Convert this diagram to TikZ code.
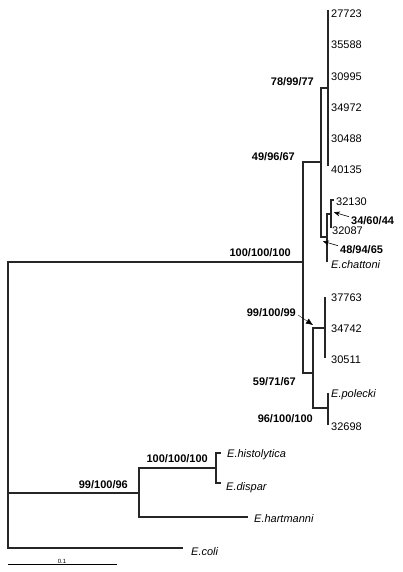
\documentclass[tikz,border=0pt]{standalone}
\usepackage{fontspec}
\setmainfont{Liberation Sans}
\usetikzlibrary{arrows.meta, positioning}

\begin{document}
\begin{tikzpicture}[
    x=1pt, y=-1pt,
    branch/.style={line width=1.1pt, draw=black!85},
    leaf/.style={anchor=west, inner sep=0pt, font=\fontsize{11}{13}\selectfont},
    taxon/.style={leaf, font=\fontsize{11}{13}\selectfont\itshape},
    support/.style={inner sep=0pt, font=\fontsize{11}{13}\selectfont\bfseries},
    pointer/.style={-{Stealth[length=6pt, width=5pt]}, line width=0.6pt, shorten >=1pt}
]
\useasboundingbox (0,0) rectangle (403,572);

   % Internal nodes
   \coordinate (root) at (8,493);
   \coordinate (nA) at (303,262);
   \coordinate (nB) at (321,162);
   \coordinate (nP) at (328,88);
   \coordinate (nC) at (327,237);
   \coordinate (nD) at (331,214);
   \coordinate (nF) at (313,373);
   \coordinate (nG) at (325,328);
   \coordinate (nH) at (328,408);
   \coordinate (nI) at (139,493);
   \coordinate (nJ) at (216,468);

   % Tips
   \coordinate (tP1) at (328,10);
   \coordinate (tP6) at (328,166);
   \coordinate (tD1) at (334,200);
   \coordinate (tD2) at (331,228);
   \coordinate (tChat) at (327,262);
   \coordinate (tG1) at (325,297);
   \coordinate (tG3) at (325,358);
   \coordinate (tH1) at (328,393);
   \coordinate (tH2) at (328,425);
   \coordinate (tJ1) at (221,453);
   \coordinate (tJ2) at (221,483);
   \coordinate (tHart) at (248,517);
   \coordinate (tColi) at (183,548);

   % Branches
   \draw[branch] (root) |- (nA);
   \draw[branch] (root) -- (nI);
   \draw[branch] (root) |- (tColi);
   \draw[branch] (nA) |- (nB);
   \draw[branch] (nA) |- (nF);
   \draw[branch] (nB) |- (nP);
   \draw[branch] (nB) |- (nC);
   \draw[branch] (nP) -- (tP1);
   \draw[branch] (nP) -- (tP6);
   \draw[branch] (nC) |- (nD);
   \draw[branch] (nC) -- (tChat);
   \draw[branch] (nD) |- (tD1);
   \draw[branch] (nD) -- (tD2);
   \draw[branch] (nF) |- (nG);
   \draw[branch] (nF) |- (nH);
   \draw[branch] (nG) -- (tG1);
   \draw[branch] (nG) -- (tG3);
   \draw[branch] (nH) -- (tH1);
   \draw[branch] (nH) -- (tH2);
   \draw[branch] (nI) |- (nJ);
   \draw[branch] (nI) |- (tHart);
   \draw[branch] (nJ) |- (tJ1);
   \draw[branch] (nJ) |- (tJ2);

   % Leaves
   \node[leaf] (l27723) at (331,14) {27723};
   \node[leaf] (l35588) at (331,45) {35588};
   \node[leaf] (l30995) at (331,77) {30995};
   \node[leaf] (l34972) at (331,108) {34972};
   \node[leaf] (l30488) at (331,139) {30488};
   \node[leaf] (l40135) at (331,170) {40135};
   \node[leaf] (l32130) at (336,202) {32130};
   \node[leaf] (l32087) at (332,231) {32087};
   \node[taxon] (lChat) at (331,265) {E.chattoni};
   \node[leaf] (l37763) at (331,298) {37763};
   \node[leaf] (l34742) at (331,329) {34742};
   \node[leaf] (l30511) at (331,360) {30511};
   \node[taxon] (lPol) at (331,395) {E.polecki};
   \node[leaf] (l32698) at (331,427) {32698};
   \node[taxon] (lHist) at (227,455) {E.histolytica};
   \node[taxon] (lDisp) at (226,488) {E.dispar};
   \node[taxon] (lHart) at (254,519) {E.hartmanni};
   \node[taxon] (lColi) at (191,552) {E.coli};

   % Support values
   \node[support, anchor=east] (s789977) at (314,82) {78/99/77};
   \node[support, anchor=east] (s499667) at (295,157) {49/96/67};
   \node[support, anchor=east] (s100a) at (291,253) {100/100/100};
   \node[support, anchor=east] (s9910099) at (296,313) {99/100/99};
   \node[support, anchor=east] (s597167) at (296,382) {59/71/67};
   \node[support, anchor=east] (s96100) at (313,419) {96/100/100};
   \node[support, anchor=east] (s100b) at (208,459) {100/100/100};
   \node[support, anchor=east] (s9910096) at (128,485) {99/100/96};
   \node[support, anchor=west] (s346044) at (351,221) {34/60/44};
   \node[support, anchor=west] (s489465) at (340,250) {48/94/65};

   % Pointers
   \coordinate (pD) at (333,212);
   \coordinate (pC) at (322,241);
   \coordinate (pG) at (313,325);
   \draw[pointer] ([xshift=-2pt]s346044.north west) -- (pD);
   \draw[pointer] ([xshift=-2pt]s489465.north west) -- (pC);
   \draw[line width=0.4pt, -{Latex[length=7pt, width=6pt]}] ([shift={(2,2)}]s9910099.east) -- (pG);

   % Scale bar
   \coordinate (bar1) at (8,564);
   \coordinate (bar2) at (117,564);
   \draw[line width=0.7pt] (bar1) -- (bar2);
   \node[inner sep=0pt, font=\fontsize{6}{7}\selectfont] (barlab) at (62,561) {0.1};
\end{tikzpicture}
\end{document}
